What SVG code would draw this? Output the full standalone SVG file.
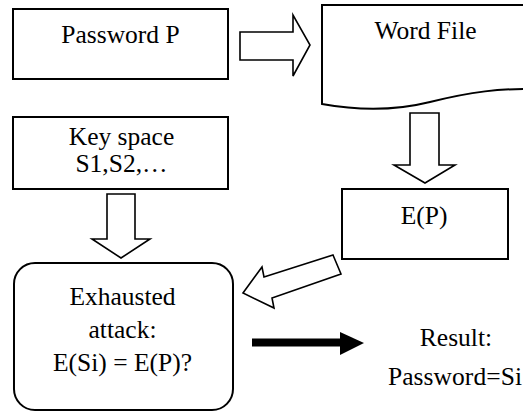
<svg xmlns="http://www.w3.org/2000/svg" width="523" height="412" viewBox="0 0 523 412">
<style>
  .box{fill:#fff;stroke:#000;stroke-width:2}
  .blk{fill:#fff;stroke:#000;stroke-width:1.6;stroke-linejoin:miter}
</style>
<rect width="523" height="412" fill="#fff"/>
<g id="connectors">
  <polygon class="blk" points="240,32 293,32 293,15 310,45 293,76 293,60 240,60"/>
  <polygon class="blk" points="410,113 439,113 439,165 455,165 425,183 394,165 410,165"/>
  <polygon class="blk" points="107,194 135,194 135,239 150,239 121,258 92,239 107,239"/>
  <polygon class="blk" points="333,255 341,274 272,298 274,308 243,293 262,267 264,277"/>
  <path d="M252,342.5 H341" stroke="#000" stroke-width="8" fill="none"/>
  <polygon points="340,332 364,343 340,355" fill="#000"/>
</g>
<g font-family="Liberation Serif, Times New Roman, DejaVu Serif, serif" font-size="25.5" text-anchor="middle" fill="#000">
<g id="password">
  <rect class="box" x="13" y="9" width="215" height="70"/>
  <text x="120.5" y="43">Password P</text>
</g>
<g id="wordfile">
  <path class="box" d="M322,104 V5 H540 V89 C500,88 470,92 430,102 C390,112 355,110 322,104 Z"/>
  <text x="425.5" y="39">Word File</text>
</g>
<g id="keyspace">
  <rect class="box" x="13" y="117" width="215" height="72"/>
  <text x="121.5" y="145">Key space</text>
  <text x="121.5" y="172">S1,S2,…</text>
</g>
<g id="ep">
  <rect class="box" x="342" y="189" width="166" height="70"/>
  <text x="424" y="224">E(P)</text>
</g>
<g id="exhausted">
  <rect class="box" x="14" y="263" width="219" height="147" rx="21"/>
  <text x="122.5" y="305">Exhausted</text>
  <text x="122.5" y="338">attack:</text>
  <text x="122.5" y="371">E(Si) = E(P)?</text>
</g>
<g id="result">
  <text x="456" y="346">Result:</text>
  <text x="455" y="385" textLength="134" lengthAdjust="spacing">Password=Si</text>
</g>
</g>
</svg>
